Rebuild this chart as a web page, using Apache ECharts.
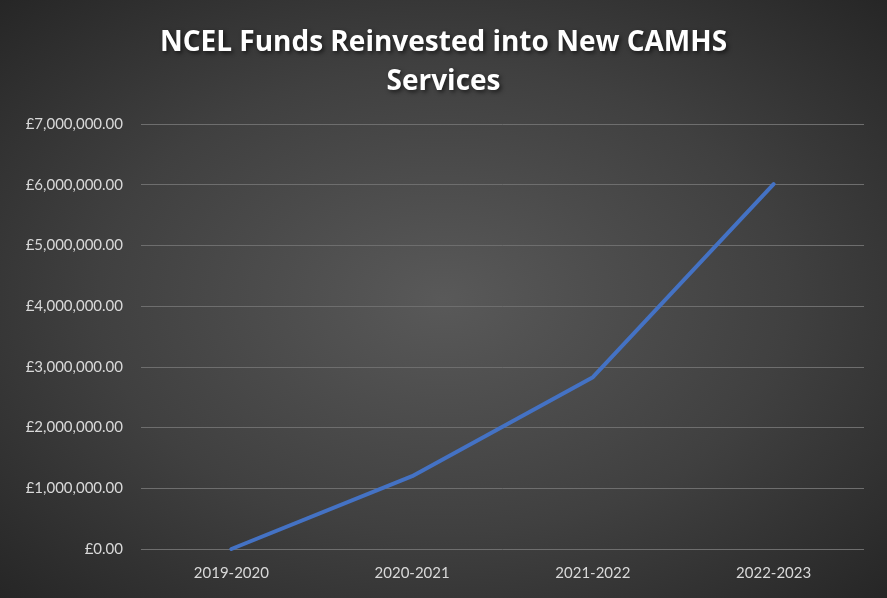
<!DOCTYPE html>
<html><head><meta charset="utf-8">
<script src="https://cdn.jsdelivr.net/npm/echarts@6/dist/echarts.min.js"></script>
<style>html,body{margin:0;padding:0;}#c{width:887px;height:598px;background:radial-gradient(ellipse at center,#595959 0%,#404040 55%,#262626 100%);}</style>
</head><body><div id="c"></div>
<script>
const categories = ["2019-2020","2020-2021","2021-2022","2022-2023"];
const values = [0, 1200000, 2830000, 6010000];
const chart = echarts.init(document.getElementById('c'));
chart.setOption({
  backgroundColor: 'transparent',
  title: {
    text: 'NCEL Funds Reinvested into New CAMHS\nServices',
    left: 'center', top: 19,
    textStyle: { color: '#ffffff', fontSize: 28, fontWeight: 'bold', fontFamily: 'Open Sans', lineHeight: 39,
      textShadowColor: 'rgba(0,0,0,0.6)', textShadowBlur: 4, textShadowOffsetX: 2, textShadowOffsetY: 2 }
  },
  grid: { left: 141, right: 23, top: 124, bottom: 49 },
  xAxis: {
    type: 'category', data: categories, boundaryGap: true,
    axisLine: { show: false }, axisTick: { show: false },
    axisLabel: { color: '#d9d9d9', fontSize: 15, fontFamily: 'Lato', margin: 17 }
  },
  yAxis: {
    type: 'value', min: 0, max: 7000000, interval: 1000000,
    axisLabel: { color: '#d9d9d9', fontSize: 15, fontFamily: 'Lato', margin: 18,
      formatter: v => '£' + v.toLocaleString('en-GB', {minimumFractionDigits: 2, maximumFractionDigits: 2}) },
    splitLine: { lineStyle: { color: '#6e6e6e', width: 1 } }
  },
  series: [{
    type: 'line', data: values, symbol: 'none',
    lineStyle: { color: '#4472C4', width: 4, cap: 'round', join: 'round' }
  }]
});
</script></body></html>
